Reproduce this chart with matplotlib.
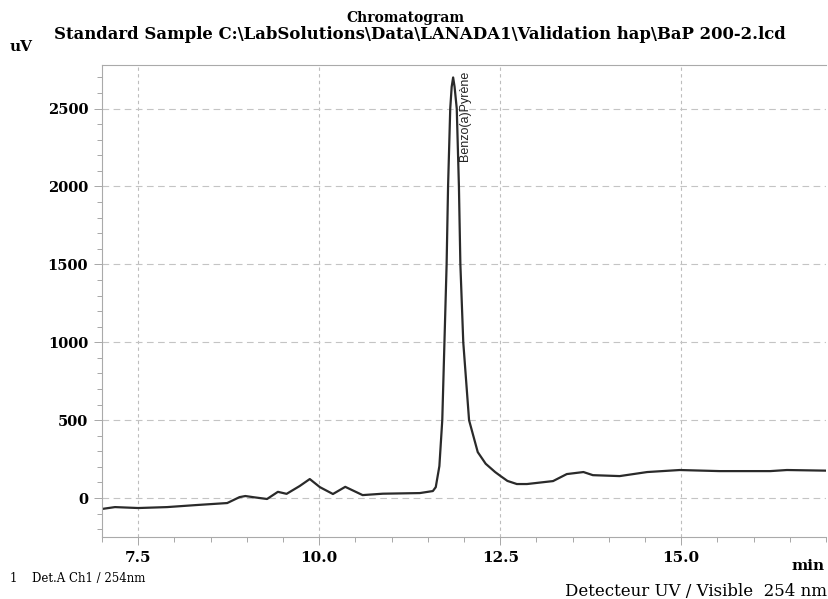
import matplotlib
matplotlib.use("Agg")
import matplotlib.pyplot as plt
from matplotlib.ticker import MultipleLocator

# retention time (min) and detector signal (uV)
time_min = [7.0, 7.18, 7.5, 7.9, 8.3, 8.73, 8.9, 8.98, 9.1, 9.28, 9.43, 9.55,
            9.73, 9.87, 10.01, 10.19, 10.36, 10.6, 10.88, 11.39, 11.57, 11.61,
            11.66, 11.70, 11.73, 11.76, 11.78, 11.81, 11.83, 11.85, 11.87,
            11.90, 11.93, 11.95, 11.99, 12.07, 12.19, 12.3, 12.43, 12.5, 12.6,
            12.73, 12.87, 13.23, 13.42, 13.65, 13.78, 14.15, 14.53, 14.98,
            15.53, 16.23, 16.46, 17.0]
signal_uv = [-70, -58, -64, -58, -45, -32, 6, 13, 5, -6, 40, 27,
             77, 122, 70, 26, 72, 19, 28, 32, 45, 70,
             205, 500, 1000, 1500, 2000, 2500, 2640, 2700, 2640,
             2500, 2000, 1500, 1000, 500, 295, 220, 167, 143, 110,
             90, 90, 109, 154, 167, 147, 141, 167, 180,
             173, 173, 180, 176]

peak_time = 11.85
peak_name = "Benzo(a)Pyrène"
x_ticks = [7.5, 10.0, 12.5, 15.0]
y_ticks = [0, 500, 1000, 1500, 2000, 2500]

serif = "DejaVu Serif"

fig = plt.figure(figsize=(8.29, 5.99), dpi=100)
ax = fig.add_axes([0.123, 0.1035, 0.8734, 0.788])

ax.plot(time_min, signal_uv, color="#2a2a2a", lw=1.6)

ax.set_xlim(7.0, 17.0)
ax.set_ylim(-250, 2780)
ax.set_xticks(x_ticks)
ax.set_yticks(y_ticks)
ax.xaxis.set_minor_locator(MultipleLocator(0.5))
ax.yaxis.set_minor_locator(MultipleLocator(100))
ax.set_xticklabels([f"{v:.1f}" for v in x_ticks], fontfamily=serif,
                   fontweight="bold", fontsize=11)
ax.set_yticklabels([str(v) for v in y_ticks], fontfamily=serif,
                   fontweight="bold", fontsize=10.5)
ax.tick_params(which="major", length=6, width=0.6, color="#999999", pad=4)
ax.tick_params(which="minor", length=3.5, width=0.6, color="#999999")
ax.tick_params(axis="x", which="both", top=False)
ax.tick_params(axis="y", which="both", right=False)

for v in x_ticks:
    ax.axvline(v, color="#bdbdbd", lw=0.8, ls=(0, (3, 3)), zorder=0)
for v in y_ticks:
    ax.axhline(v, color="#c4c4c4", lw=0.8, ls=(0, (6, 4)), zorder=0)

for s in ["left", "bottom", "top"]:
    ax.spines[s].set_color("#aaaaaa")
    ax.spines[s].set_linewidth(0.8)
ax.spines["right"].set_visible(False)

ax.text(peak_time + 0.08, 2745, peak_name, rotation=90, ha="left", va="top",
        fontsize=9, fontfamily="Liberation Sans", color="#222222")

fig.text(0.489, 0.970, "Chromatogram", ha="center", va="center",
         fontfamily=serif, fontweight="bold", fontsize=10)
fig.text(0.506, 0.943,
         "Standard Sample C:\\LabSolutions\\Data\\LANADA1\\Validation hap\\BaP 200-2.lcd",
         ha="center", va="center", fontfamily=serif, fontweight="bold",
         fontsize=11.9)
fig.text(0.012, 0.921, "uV", ha="left", va="center", fontfamily=serif,
         fontweight="bold", fontsize=11)
fig.text(0.995, 0.055, "min", ha="right", va="center", fontfamily=serif,
         fontweight="bold", fontsize=11)
fig.text(0.012, 0.035, "1", ha="left", va="center",
         fontfamily=serif, fontsize=8.5)
fig.text(0.038, 0.035, "Det.A Ch1 / 254nm", ha="left", va="center",
         fontfamily=serif, fontsize=8.5)
fig.text(0.998, 0.0125, "Detecteur UV / Visible  254 nm", ha="right",
         va="center", fontfamily=serif, fontsize=12)

fig.savefig("out.png", dpi=100)
